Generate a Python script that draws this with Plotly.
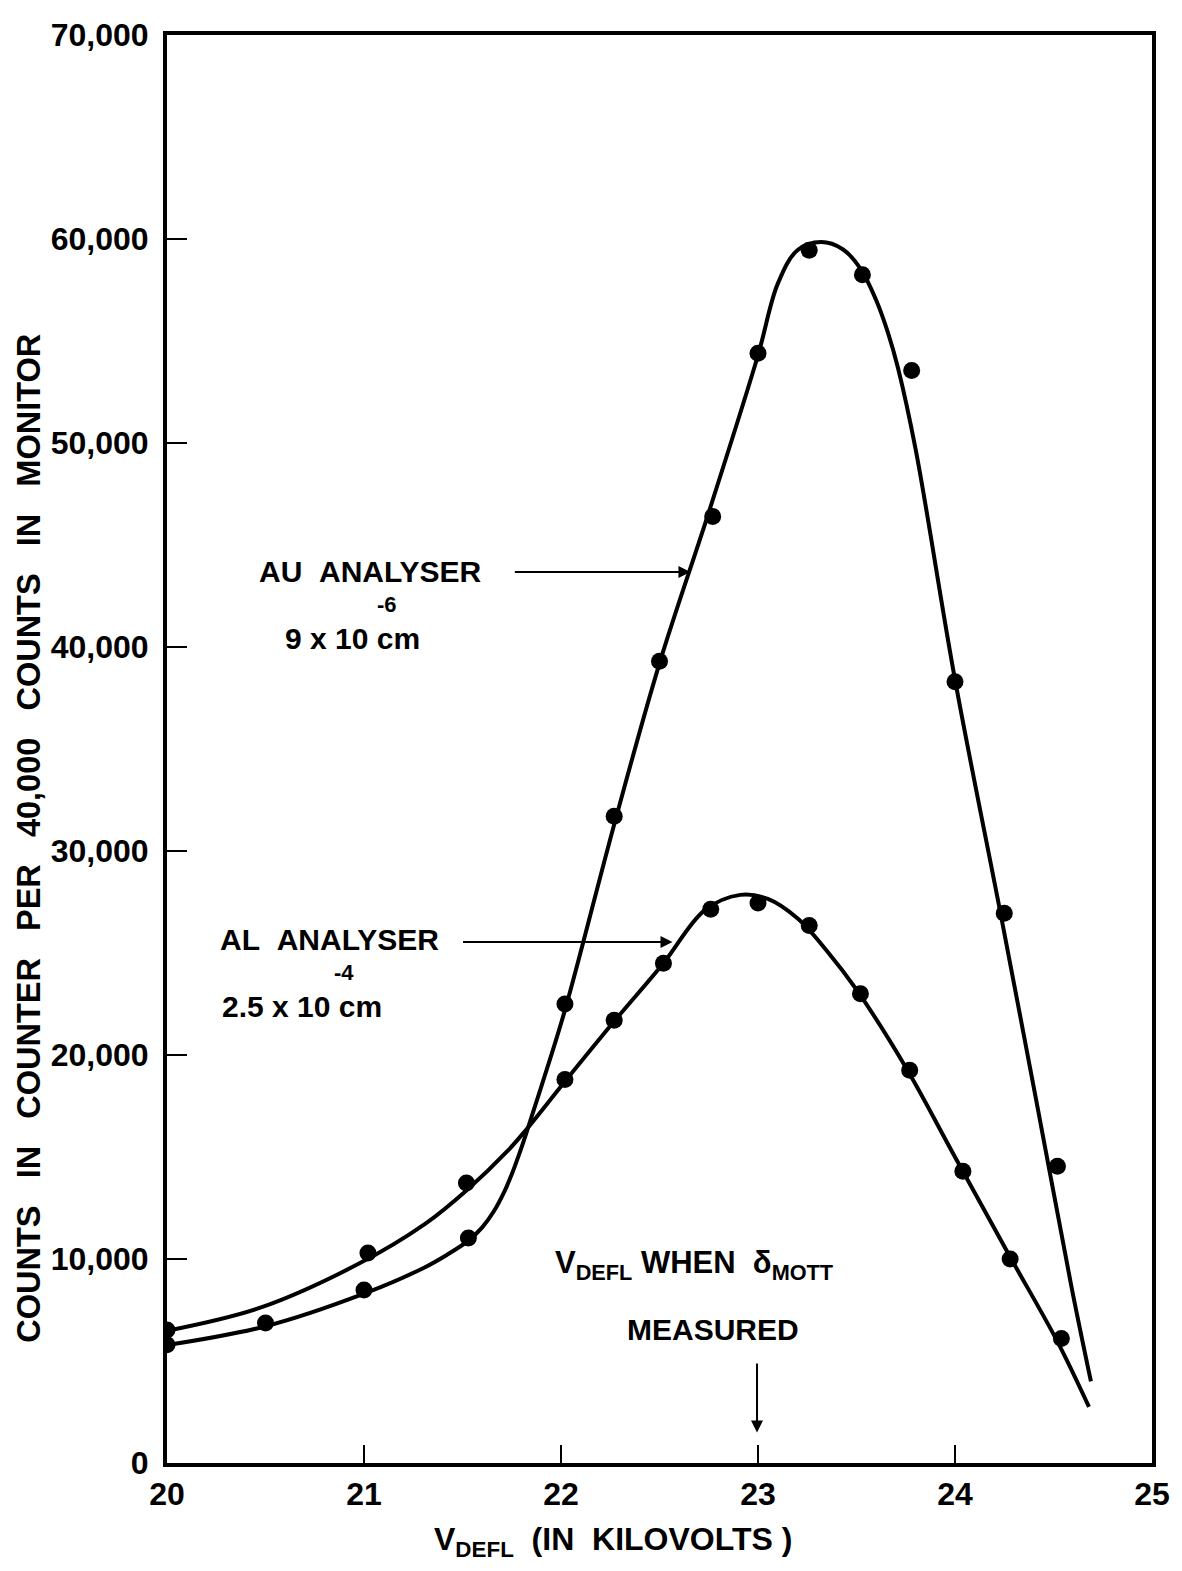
import plotly.graph_objects as go

# Measured points (counts in counter per 40,000 counts in monitor)
au_kv = [20.0, 20.5, 21.0, 21.53, 22.02, 22.27, 22.5, 22.77, 23.0, 23.26, 23.53, 23.78, 24.0, 24.25, 24.52]
au_counts = [5800, 6860, 8480, 11030, 22500, 31700, 39300, 46400, 54400, 59450, 58250, 53550, 38300, 26950, 14550]

al_kv = [20.0, 21.02, 21.52, 22.02, 22.27, 22.52, 22.76, 23.0, 23.26, 23.52, 23.77, 24.04, 24.28, 24.54]
al_counts = [6520, 10290, 13730, 18800, 21700, 24500, 27150, 27450, 26350, 23000, 19250, 14300, 10000, 6100]

# Hand-fitted curves through each set
au_curve_kv = [20.0, 20.5, 21.0, 21.3, 21.42, 21.53, 21.6, 21.66, 21.71, 21.75, 21.79,
               21.83, 21.9, 22.02, 22.27, 22.5, 22.75, 23.0, 23.1, 23.2, 23.32, 23.43,
               23.52, 23.6, 23.66, 23.71, 23.8, 24.0, 24.23, 24.41, 24.59, 24.69]
au_curve_counts = [5780, 6700, 8300, 9550, 10200, 10900, 11550, 12350, 13250, 14150, 15200,
                   16350, 18450, 22200, 31300, 39200, 46600, 54300, 57800, 59450, 59850, 59500,
                   58550, 57000, 55400, 53700, 49700, 38400, 27000, 17900, 8700, 4000]

al_curve_kv = [20.0, 20.47, 20.97, 21.31, 21.52, 21.73, 21.82, 22.02, 22.27, 22.52, 22.73,
               22.91, 23.05, 23.2, 23.35, 23.5, 23.75, 24.0, 24.28, 24.52, 24.68]
al_curve_counts = [6480, 7600, 9750, 11720, 13360, 15310, 16300, 18700, 21650, 24500, 27100,
                   27850, 27650, 26700, 25100, 23200, 19400, 15000, 10100, 5950, 2750]

x_ticks = [20, 21, 22, 23, 24, 25]
y_ticks = [0, 10000, 20000, 30000, 40000, 50000, 60000, 70000]

FONT = "Liberation Sans"
INK = "black"
SP = "\u00a0"

fig = go.Figure()

for cx, cy in ((au_curve_kv, au_curve_counts), (al_curve_kv, al_curve_counts)):
    fig.add_trace(go.Scatter(x=cx, y=cy, mode="lines",
                             line=dict(color=INK, width=4, shape="spline", smoothing=1.0),
                             hoverinfo="skip", showlegend=False))
fig.add_trace(go.Scatter(x=au_kv, y=au_counts, mode="markers", name="Au analyser",
                         marker=dict(color=INK, size=17), showlegend=False))
fig.add_trace(go.Scatter(x=al_kv, y=al_counts, mode="markers", name="Al analyser",
                         marker=dict(color=INK, size=17), showlegend=False))


def label(text, x, y, size=30, **kw):
    return dict(text=text, x=x, y=y, xref="x", yref="y", showarrow=False,
                font=dict(family=FONT, size=size, color=INK, weight="bold"), **kw)


def pointer(x_head, y_head, x_tail, y_tail):
    return dict(text="", x=x_head, y=y_head, ax=x_tail, ay=y_tail,
                xref="x", yref="y", axref="x", ayref="y", showarrow=True,
                arrowhead=2, arrowsize=1.2, arrowwidth=2, arrowcolor=INK)


annotations = [
    label("AU" + SP * 2 + "ANALYSER", 21.035, 43700),
    label("-6", 21.116, 42060, size=22),
    label("9 x 10 cm", 20.94, 40440),
    pointer(22.657, 43680, 21.758, 43680),
    label("AL" + SP * 2 + "ANALYSER", 20.823, 25650),
    label("-4", 20.899, 24020, size=22),
    label("2.5 x 10 cm", 20.687, 22400),
    pointer(22.566, 25540, 21.495, 25540),
    label("V<sub>DEFL</sub> WHEN" + SP * 2 + "δ<sub>MOTT</sub>", 22.68, 9700, size=31),
    label("MEASURED", 22.773, 6520),
    pointer(22.995, 1500, 22.995, 4950),
    dict(text="V<sub>DEFL</sub>" + SP * 2 + "(IN" + SP * 2 + "KILOVOLTS )", x=22.263, y=-0.055,
         xref="x", yref="paper", showarrow=False, yanchor="middle",
         font=dict(family=FONT, size=32, color=INK, weight="bold")),
    dict(text=(SP * 3).join(["COUNTS", "IN", "COUNTER", "PER", "40,000",
                             "COUNTS", "IN", "MONITOR"]),
         x=-0.1404, y=0.4377, xref="paper", yref="paper", showarrow=False, textangle=-90,
         xanchor="center", yanchor="middle",
         font=dict(family=FONT, size=32.5, color=INK, weight="bold")),
]

fig.update_layout(
    width=1182, height=1571,
    margin=dict(l=167, r=25, t=35, b=108),
    paper_bgcolor="white", plot_bgcolor="white",
    font=dict(family=FONT, color=INK),
    annotations=annotations,
)

fig.update_xaxes(range=[20, 25], tickvals=x_ticks, ticktext=[str(v) for v in x_ticks],
                 showgrid=False, zeroline=False, showline=True, linecolor=INK, linewidth=4,
                 mirror=True, ticks="inside", ticklen=18, tickwidth=2, tickcolor=INK,
                 tickfont=dict(family=FONT, size=32, color=INK, weight="bold"))
fig.update_yaxes(range=[0, 70000], tickvals=y_ticks, tickformat=",d",
                 showgrid=False, zeroline=False, showline=True, linecolor=INK, linewidth=4,
                 mirror=True, ticks="inside", ticklen=20, tickwidth=2, tickcolor=INK,
                 ticklabelstandoff=8,
                 tickfont=dict(family=FONT, size=32, color=INK, weight="bold"))

fig.write_html("out.html")
